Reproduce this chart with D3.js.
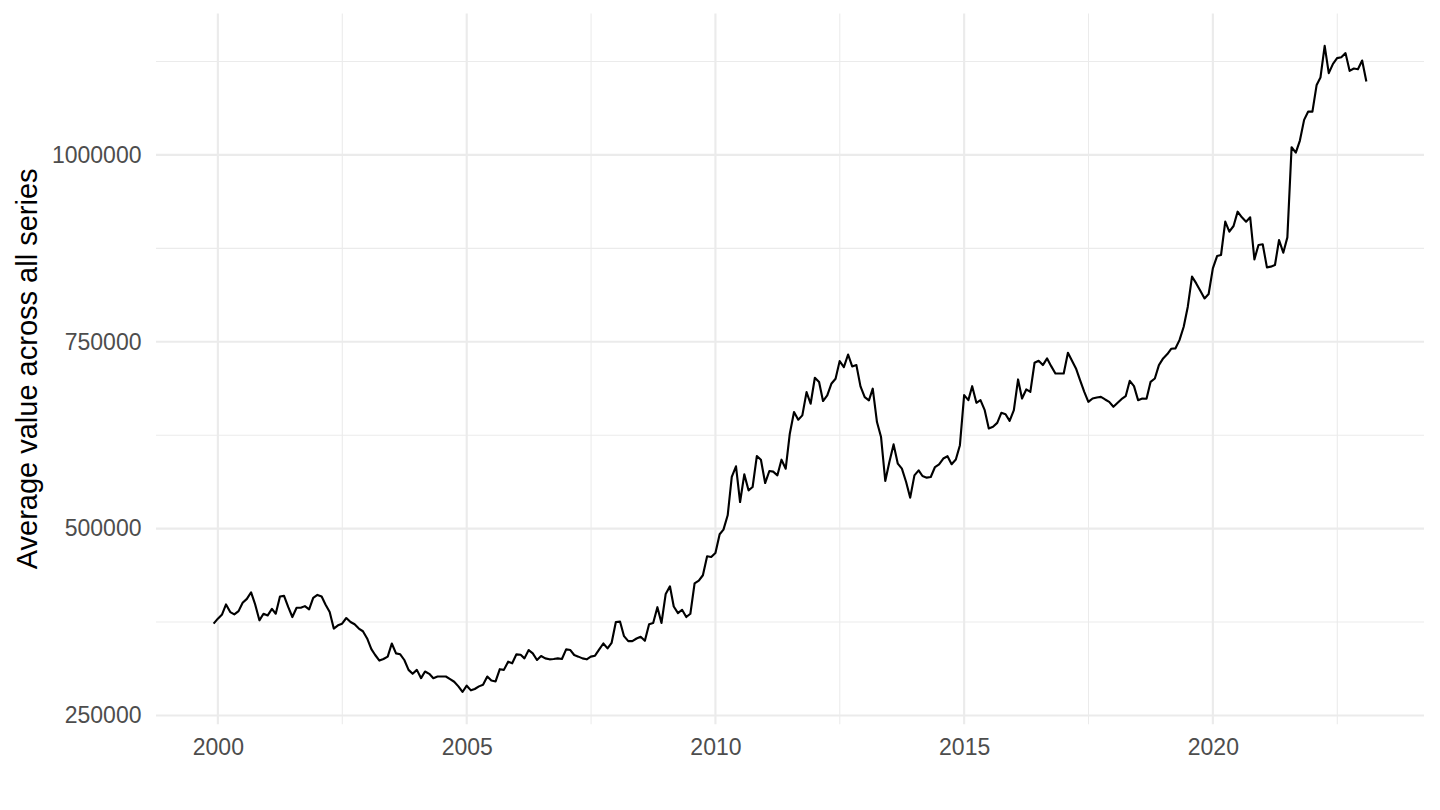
<!DOCTYPE html>
<html>
<head>
<meta charset="utf-8">
<script src="https://cdn.jsdelivr.net/npm/d3@7"></script>
<style>
  body { margin: 0; background: #fff; }
  text { font-family: "Liberation Sans", Arial, sans-serif; }
</style>
</head>
<body>
<div id="chart"></div>
<script>
// monthly averages, first month below, one value per month
const startMonth = "1999-12";
const values = [
  372800, 379500, 385200, 398500, 388300, 385200, 389600, 400700, 406000, 414800,
  398500, 377300, 386100, 383900, 392700, 386100, 409100, 410000, 394900, 381700,
  394100, 394100, 396300, 391900, 407300, 411300, 409100, 398500, 388300, 366200,
  370600, 372800, 380400, 375100, 372000, 366200, 362700, 353000, 338800, 330900,
  323400, 325600, 328700, 346300, 333100, 331800, 324200, 311000, 305700, 311000,
  299900, 308800, 305700, 299900, 302100, 302100, 302100, 298600, 295100, 288900,
  281400, 289800, 283600, 285400, 288900, 291100, 302100, 296800, 295500, 311900,
  311000, 322000, 319800, 331800, 331300, 326400, 337500, 333100, 324200, 329500,
  326400, 325100, 325600, 326400, 325600, 338400, 337500, 330900, 328700, 326400,
  325100, 328700, 330000, 338400, 346300, 339700, 347200, 375100, 375500, 356100,
  349400, 349400, 353000, 355200, 349900, 372000, 373700, 394900, 373700, 412600,
  422800, 395800, 387000, 391400, 381700, 386100, 426800, 430300,
  437600, 463000, 462100, 467500, 492400, 498700, 517800, 569100, 583300, 535600,
  572600, 551200, 555700, 597100, 592200, 561000, 577100, 576200, 571300, 592200,
  580200, 627000, 656000, 645700, 651500, 682700, 667100, 701900, 696100, 670700,
  678200, 693800, 700500, 724100, 716100, 733000, 717000, 718800, 690300, 676000,
  671600, 687200, 642600, 622500, 563700, 589100, 612700, 586900, 580200, 562400,
  541400, 571300, 578000, 570400, 568200, 569100, 582400, 586000,
  593800, 596900, 586200, 592400, 611600, 678600, 671900, 690600, 668300, 671900,
  658500, 633900, 636200, 641500, 654900, 653100, 644200, 658500, 699600, 674100,
  686200, 683000, 721900, 724600, 718800, 727700, 717400, 707600, 707600, 707600,
  735300, 725400, 714300, 698700, 683000, 669600, 674100, 675500, 676300, 672800,
  669600, 663000, 668300, 673200, 677200, 697800, 690600, 671900, 674100, 673700,
  696400, 700900, 718800, 727700, 733500, 740600, 741100, 752200,
  770100, 796900, 837100, 828100, 818300, 808000, 813900, 848200, 864700, 866100,
  910700, 897300, 904900, 924100, 916500, 910700, 916500, 860300, 879500, 880400,
  849600, 850500, 852700, 886200, 869200, 889700, 1010300, 1003100, 1019200, 1046900,
  1058000, 1058000, 1093700, 1103600, 1146000, 1109400, 1121900, 1129500, 1130800, 1136200,
  1112500, 1115600, 1114700, 1126300, 1098200
];
const xTickYears = [2000, 2005, 2010, 2015, 2020];
const yTicks = [250000, 500000, 750000, 1000000];
const yMinorTicks = [375000, 625000, 875000, 1125000];
const yTitle = "Average value across all series";

var width = 1440, height = 810;
var margin = {top: 13.5, right: 16, bottom: 85.7, left: 156};

var parseMonth = d3.timeParse("%Y-%m");
var first = parseMonth(startMonth);
var data = values.map(function(v, i) {
  return {date: d3.timeMonth.offset(first, i), value: v};
});

var svg = d3.select("#chart")
  .append("svg")
    .attr("width", width)
    .attr("height", height)
    .style("display", "block");

// ggplot style 5% expansion on both axes
var xExt = d3.extent(data, function(d) { return +d.date; });
var xPad = (xExt[1] - xExt[0]) * 0.05;
var x = d3.scaleTime()
  .domain([new Date(xExt[0] - xPad), new Date(xExt[1] + xPad)])
  .range([margin.left, width - margin.right]);

var yExt = d3.extent(data, function(d) { return d.value; });
var yPad = (yExt[1] - yExt[0]) * 0.05;
var y = d3.scaleLinear()
  .domain([yExt[0] - yPad, yExt[1] + yPad])
  .range([height - margin.bottom, margin.top]);

var xTicks = xTickYears.map(function(yr) { return new Date(yr, 0, 1); });
// minor breaks half way between the majors
var xMinor = [];
for (var k = 0; k < xTicks.length; k++) {
  var a = xTicks[k], b = new Date(xTickYears[k] + 5, 0, 1);
  xMinor.push(new Date((+a + +b) / 2));
}

var grid = svg.append("g").attr("stroke", "#EBEBEB").attr("fill", "none");

grid.selectAll(".ymin").data(yMinorTicks).enter().append("line")
  .attr("x1", margin.left).attr("x2", width - margin.right)
  .attr("y1", function(d) { return y(d); }).attr("y2", function(d) { return y(d); })
  .attr("stroke-width", 1.07);

grid.selectAll(".xmin").data(xMinor.filter(function(d) { return x(d) < width - margin.right; }))
  .enter().append("line")
  .attr("y1", margin.top).attr("y2", height - margin.bottom)
  .attr("x1", function(d) { return x(d); }).attr("x2", function(d) { return x(d); })
  .attr("stroke-width", 1.07);

grid.selectAll(".ymaj").data(yTicks).enter().append("line")
  .attr("x1", margin.left).attr("x2", width - margin.right)
  .attr("y1", function(d) { return y(d); }).attr("y2", function(d) { return y(d); })
  .attr("stroke-width", 2.13);

grid.selectAll(".xmaj").data(xTicks).enter().append("line")
  .attr("y1", margin.top).attr("y2", height - margin.bottom)
  .attr("x1", function(d) { return x(d); }).attr("x2", function(d) { return x(d); })
  .attr("stroke-width", 2.13);

// the series
svg.append("path")
  .datum(data)
  .attr("fill", "none")
  .attr("stroke", "#000")
  .attr("stroke-width", 2.13)
  .attr("stroke-linejoin", "round")
  .attr("stroke-linecap", "butt")
  .attr("d", d3.line()
    .x(function(d) { return x(d.date); })
    .y(function(d) { return y(d.value); })
  );

// axes: labels only, ticks and domain hidden like theme_minimal
var yAxis = svg.append("g")
  .attr("transform", "translate(" + margin.left + ",0)")
  .call(d3.axisLeft(y).tickValues(yTicks).tickFormat(d3.format("d")).tickSize(0).tickPadding(14.5));
var xAxis = svg.append("g")
  .attr("transform", "translate(0," + (height - margin.bottom) + ")")
  .call(d3.axisBottom(x).tickValues(xTicks).tickFormat(d3.timeFormat("%Y")).tickSize(0).tickPadding(14.5));

[yAxis, xAxis].forEach(function(ax) {
  ax.select(".domain").remove();
  ax.selectAll("text")
    .style("font-family", "'Liberation Sans', Arial, sans-serif")
    .style("font-size", "23px")
    .attr("fill", "#4D4D4D");
});

svg.append("text")
  .attr("transform", "translate(36.5," + ((margin.top + height - margin.bottom) / 2) + ") rotate(-90)")
  .attr("text-anchor", "middle")
  .style("font-size", "29px")
  .attr("fill", "#000")
  .text(yTitle);
</script>
</body>
</html>
